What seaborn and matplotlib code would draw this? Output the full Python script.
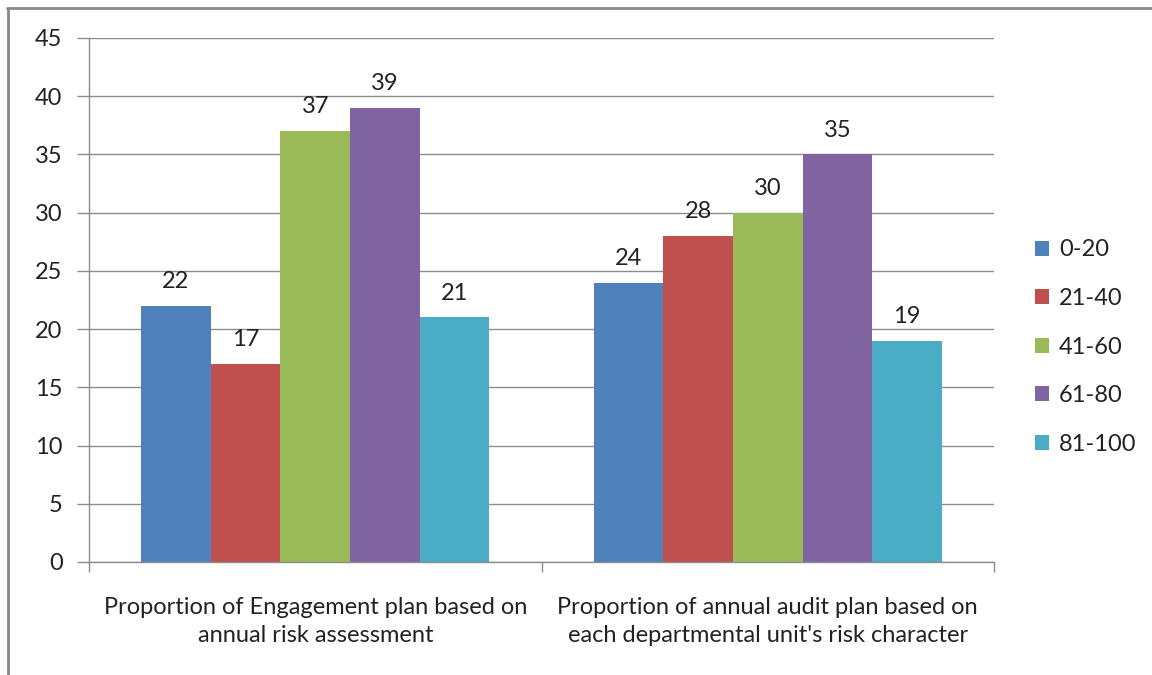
import numpy as np
import pandas as pd
import matplotlib
matplotlib.use("Agg")
import matplotlib.pyplot as plt
import seaborn as sns
from matplotlib.lines import Line2D

# data
categories = ["Proportion of Engagement plan based on\nannual risk assessment",
              "Proportion of annual audit plan based on\neach departmental unit's risk character"]
ranges = ["0-20", "21-40", "41-60", "61-80", "81-100"]
engagement = [22, 17, 37, 39, 21]
audit_plan = [24, 28, 30, 35, 19]
colors = ["#4F81BD", "#C0504D", "#9BBB59", "#8064A2", "#4BACC6"]

rows = []
for r, a, b in zip(ranges, engagement, audit_plan):
    rows.append({"category": categories[0], "range": r, "value": a})
    rows.append({"category": categories[1], "range": r, "value": b})
df = pd.DataFrame(rows)

sns.set_style("white")
plt.rcParams["font.family"] = ["Lato", "DejaVu Sans"]
fs = 17

fig = plt.figure(figsize=(11.52, 6.75), dpi=100)
ax = fig.add_axes([89 / 1152, 1 - 562 / 675, (994 - 89) / 1152, (562 - 38) / 675])

sns.barplot(data=df, x="category", y="value", hue="range", order=categories,
            hue_order=ranges, palette=colors, width=0.77, gap=0,
            saturation=1, ax=ax, edgecolor="none", linewidth=0)

for cont in ax.containers:
    ax.bar_label(cont, padding=10, fontsize=fs, color="#222222")

ax.set_xlim(-0.5, 1.5)
ax.set_ylim(0, 45)
ax.set_yticks(np.arange(0, 46, 5))
ax.yaxis.grid(True, color="#8c8c8c", linewidth=1)
ax.set_axisbelow(True)
ax.set_xlabel("")
ax.set_ylabel("")

# category boundaries as ticks, labels in the middle
ax.set_xticks([-0.5, 0.5, 1.5])
ax.set_xticklabels([])
ax.set_xticks([0, 1], minor=True)
ax.set_xticklabels(categories, minor=True, fontsize=fs, color="#222222", linespacing=1.4)
ax.tick_params(axis="x", which="major", length=7, width=1, color="#8c8c8c", direction="out")
ax.tick_params(axis="x", which="minor", length=0, pad=25)
ax.tick_params(axis="y", length=9, width=1, color="#8c8c8c", direction="out",
               labelsize=fs, labelcolor="#222222", pad=10)
ax.tick_params(bottom=True, left=True)

for s in ["top", "right"]:
    ax.spines[s].set_visible(False)
for s in ["left", "bottom"]:
    ax.spines[s].set_color("#8c8c8c")
    ax.spines[s].set_linewidth(1)

leg = ax.legend(loc="center left", bbox_to_anchor=(1.022, 0.41), frameon=False,
                fontsize=fs, handlelength=0.6, handleheight=0.6,
                handletextpad=0.4, labelspacing=1.17)
for t in leg.get_texts():
    t.set_color("#222222")

# outer chart frame (top and left edges)
fig.add_artist(Line2D([7 / 1152, 1], [1 - 7.5 / 675, 1 - 7.5 / 675], color="#888888", linewidth=2))
fig.add_artist(Line2D([7.5 / 1152, 7.5 / 1152], [0, 1 - 7.5 / 675], color="#888888", linewidth=2))

fig.savefig("out.png", dpi=100)
